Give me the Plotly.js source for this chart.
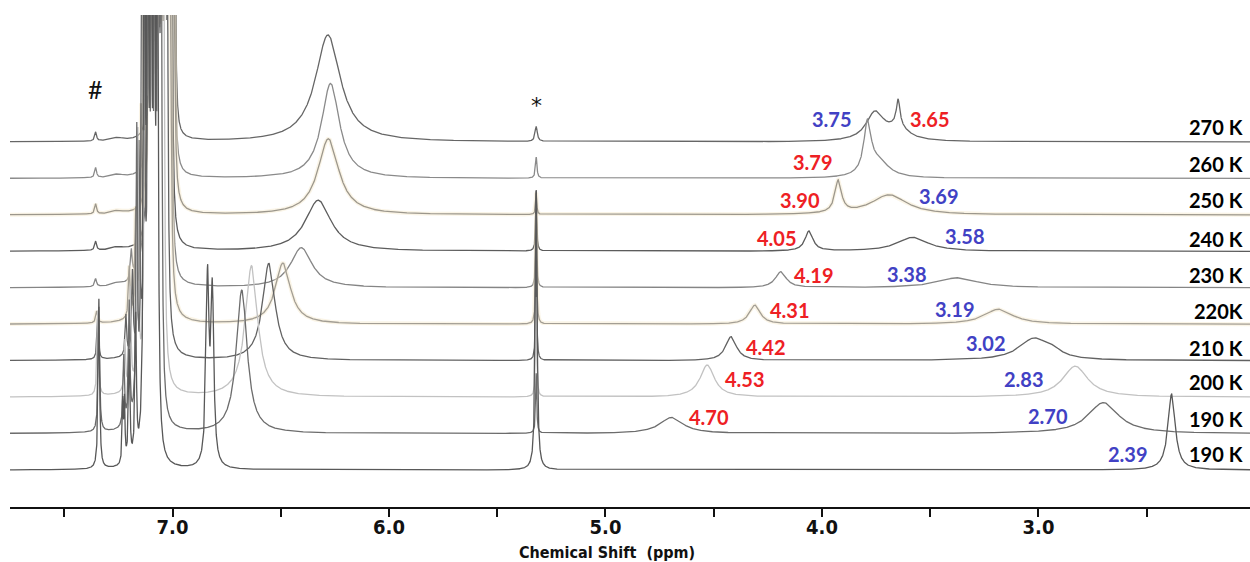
<!DOCTYPE html>
<html><head><meta charset="utf-8">
<script src="https://cdn.plot.ly/plotly-3.0.1.min.js"></script>
<style>html,body{margin:0;padding:0;background:#fff}#chart{width:1250px;height:562px}</style>
</head><body><div id="chart"></div>
<script>
// ---- data ----
const temperatures = ['270 K','260 K','250 K','240 K','230 K','220K','210 K','200 K','190 K','190 K'];
const redLabels  = ['3.65','3.79','3.90','4.05','4.19','4.31','4.42','4.53','4.70',''];
const blueLabels = ['3.75','','3.69','3.58','3.38','3.19','3.02','2.83','2.70','2.39'];
// each peak: [chemical shift (ppm), intensity, half width (ppm)]
const peaks270 = [[7.355,9,0.005],[7.255,3,0.03],
  [7.11,300,0.004],[7.095,300,0.004],[7.08,300,0.004],[7.065,300,0.004],[7.05,300,0.004],[7.035,300,0.004],[7.02,300,0.004],[7.005,300,0.004],[6.99,300,0.004],
  [6.282,107,0.07],[5.32,15,0.006],[3.755,28,0.05],[3.648,26,0.01],[3.65,12,0.06]];
const peaks260 = [[7.355,10,0.005],[7.255,3,0.03],
  [7.11,350,0.004],[7.095,350,0.004],[7.08,350,0.004],[7.065,350,0.004],[7.05,350,0.004],[7.035,350,0.004],[7.02,350,0.004],[7.005,350,0.004],[6.993,350,0.004],
  [6.27,95,0.05],[5.32,21,0.004],[3.79,50,0.02],[3.74,16,0.06]];
const peaks250 = [[7.355,10,0.005],[7.255,3,0.03],
  [7.11,400,0.004],[7.095,400,0.004],[7.08,400,0.004],[7.065,400,0.004],[7.05,400,0.004],[7.035,400,0.004],[7.02,400,0.004],[7.005,400,0.004],[6.995,400,0.004],
  [6.28,76,0.058],[5.32,22,0.003],[3.925,32,0.018],[3.69,20,0.1]];
const peaks240 = [[7.355,9,0.005],[7.255,3,0.03],
  [7.11,500,0.004],[7.095,500,0.004],[7.08,500,0.004],[7.065,500,0.004],[7.05,500,0.004],[7.035,500,0.004],[7.02,500,0.004],[7.005,500,0.004],
  [6.327,51,0.072],[5.32,60,0.003],[4.06,20,0.022],[3.58,14,0.085]];
const peaks230 = [[7.355,8,0.005],[7.255,3,0.03],[7.19,30,0.005],[7.165,60,0.005],
  [7.125,500,0.004],[7.11,500,0.004],[7.095,500,0.004],[7.08,500,0.004],[7.065,500,0.004],[7.05,500,0.004],[7.035,500,0.004],[7.02,500,0.004],[7.007,500,0.004],
  [6.405,40,0.06],[5.32,80,0.003],[4.19,16,0.03],[3.375,10,0.11]];
const peaks220 = [[7.35,12,0.005],[7.2,50,0.004],[7.17,100,0.004],[7.145,180,0.004],
  [7.125,550,0.004],[7.11,550,0.004],[7.095,550,0.004],[7.08,550,0.004],[7.065,550,0.004],[7.05,550,0.004],[7.035,550,0.004],[7.022,550,0.004],[7.012,550,0.004],
  [6.49,61,0.042],[5.32,110,0.003],[4.31,19,0.03],[3.185,15,0.08]];
const peaks210 = [[7.345,45,0.004],[7.215,40,0.004],[7.185,80,0.004],[7.155,200,0.004],[7.13,250,0.004],
  [7.11,600,0.004],[7.095,600,0.004],[7.08,600,0.004],[7.065,600,0.004],[7.05,600,0.004],[7.037,600,0.004],[7.026,600,0.004],
  [6.555,97,0.035],[5.32,110,0.003],[4.42,24,0.03],[3.02,22,0.085],[2.93,5,0.04]];
const peaks200 = [[7.345,85,0.004],[7.22,50,0.004],[7.195,100,0.004],[7.16,250,0.004],
  [7.125,600,0.004],[7.11,600,0.004],[7.095,600,0.004],[7.08,600,0.004],[7.065,600,0.004],[7.052,600,0.004],[7.042,600,0.004],
  [6.635,131,0.035],[5.32,100,0.003],[4.53,32,0.04],[2.83,31,0.07]];
const peaks190a = [[7.34,125,0.004],[7.225,70,0.004],[7.2,120,0.004],[7.165,280,0.004],
  [7.14,600,0.004],[7.125,600,0.004],[7.11,600,0.004],[7.095,600,0.004],[7.08,600,0.004],[7.065,600,0.004],[7.053,600,0.004],
  [6.68,143,0.03],[5.32,60,0.003],[4.695,16,0.065],[2.70,31,0.085]];
const peaks190b = [[7.34,170,0.004],[7.23,60,0.003],[7.222,60,0.003],[7.20,110,0.004],[7.17,140,0.004],
  [7.13,700,0.004],[7.115,700,0.004],[7.1,700,0.004],[7.085,700,0.004],[7.07,700,0.004],
  [6.838,185,0.008],[6.816,170,0.008],[5.32,280,0.005],[2.385,76,0.02]];
const spectra = [peaks270,peaks260,peaks250,peaks240,peaks230,peaks220,peaks210,peaks200,peaks190a,peaks190b];
const xTicks = [7.5,7.0,6.5,6.0,5.5,5.0,4.5,4.0,3.5,3.0,2.5];
const xTickText = ['','7.0','','6.0','','5.0','','4.0','','3.0',''];

// ---- styling ----
const lineColors = ['#666666','#8a8a8a','#9c978c','#5c5c5c','#858585','#a39e94','#626262','#c2c2c2','#6c6c6c','#585858'];
const halo = [false,false,true,false,false,true,false,false,false,false];
const stackStep = 36.44, stackBase = 37;
const redShift  = [[32,23.5],[-54.5,16],[-44,15],[-34,13],[33,12.6],[35,14],[35,13.4],[38,18],[38.5,17],null];
const blueShift = [[-44,23.5],null,[50,19],[52,15],[-49,13.6],[-42,15],[-48,18],[-51,18],[-55.5,18],[-42.6,15.6]];
const tempShift = [15,14.4,15,12,12.6,13,12.4,15,15,15.6];
const xMin = 2.023, xMax = 7.7506;
const labelFont = 'Lato, "Open Sans", sans-serif';
const axisFont = 'Tahoma, "DejaVu Sans Condensed", "Liberation Sans", sans-serif';

const step = 0.0005;
const grid = [];
for (let v = xMin; v <= xMax + 1e-9; v += step) grid.push(+v.toFixed(5));

function offsetOf(i){ return stackBase + (spectra.length - 1 - i) * stackStep; }

const traces = [];
spectra.forEach((pk, i) => {
  const off = offsetOf(i);
  const y = grid.map(x => {
    let s = off;
    for (const [c, h, w] of pk) { const d = x - c; s += h * w * w / (d * d + w * w); }
    return s;
  });
  if (halo[i]) traces.push({x: grid, y: y, mode: 'lines', line: {color: 'rgba(245,230,200,0.45)', width: 4}, hoverinfo: 'skip', showlegend: false});
  traces.push({x: grid, y: y, mode: 'lines', name: temperatures[i], line: {color: lineColors[i], width: 1.3}, hoverinfo: 'skip', showlegend: false});
});

const annotations = [];
spectra.forEach((pk, i) => {
  const off = offsetOf(i);
  if (redLabels[i]) annotations.push({x: parseFloat(redLabels[i]), y: off, xref: 'x', yref: 'y', text: redLabels[i],
    xshift: redShift[i][0], yshift: redShift[i][1], showarrow: false, xanchor: 'center', yanchor: 'middle',
    font: {family: labelFont, size: 20, weight: 'bold', color: '#ee2024'}});
  if (blueLabels[i]) annotations.push({x: parseFloat(blueLabels[i]), y: off, xref: 'x', yref: 'y', text: blueLabels[i],
    xshift: blueShift[i][0], yshift: blueShift[i][1], showarrow: false, xanchor: 'center', yanchor: 'middle',
    font: {family: labelFont, size: 20, weight: 'bold', color: '#4141c4'}});
  annotations.push({x: (1245 - 10) / 1240, xref: 'paper', y: off, yref: 'y', text: temperatures[i], yshift: tempShift[i],
    showarrow: false, xanchor: 'right', yanchor: 'middle', font: {family: labelFont, size: 20, weight: 'bold', color: '#000'}});
});
annotations.push({x: 7.355, y: offsetOf(0), xref: 'x', yref: 'y', text: '#', yshift: 53, showarrow: false,
  font: {family: labelFont, size: 25, color: '#111'}});
annotations.push({x: 5.32, y: offsetOf(0), xref: 'x', yref: 'y', text: '*', yshift: 37, showarrow: false,
  font: {family: '"DejaVu Sans", sans-serif', size: 22, color: '#111'}});
annotations.push({x: (607 - 10) / 1240, xref: 'paper', y: -(552 - 507) / 492, yref: 'paper', text: 'Chemical Shift\u00a0\u00a0(ppm)',
  showarrow: false, xanchor: 'center', yanchor: 'middle', font: {family: axisFont, size: 16, weight: 'bold', color: '#111'}});

const layout = {
  width: 1250, height: 562,
  margin: {l: 10, r: 0, t: 15, b: 55},
  paper_bgcolor: '#fff', plot_bgcolor: '#fff',
  showlegend: false,
  xaxis: {range: [xMax, xMin], tickvals: xTicks, ticktext: xTickText, ticks: 'outside', ticklen: 8, tickwidth: 2,
    tickcolor: '#111', showline: true, linecolor: '#111', linewidth: 2, showgrid: false, zeroline: false,
    ticklabelstandoff: -7,
    tickfont: {family: axisFont, size: 20, weight: 'bold', color: '#111'}, fixedrange: true},
  yaxis: {range: [0, 492], visible: false, fixedrange: true},
  annotations: annotations
};
Plotly.newPlot('chart', traces, layout, {displayModeBar: false, staticPlot: true});
</script></body></html>
